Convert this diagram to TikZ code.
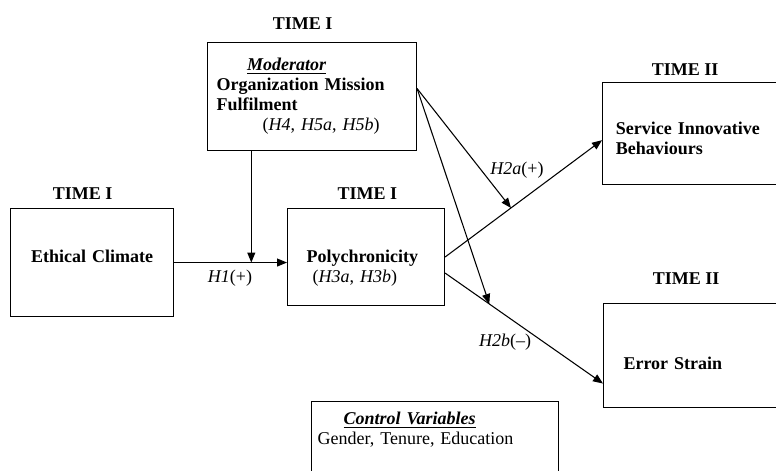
\documentclass[tikz,border=0pt]{standalone}
\usepackage{fontspec}
\setmainfont{Liberation Serif}
\usetikzlibrary{arrows.meta,positioning,calc}

\begin{document}
\begin{tikzpicture}[
    x=0.75pt, y=-0.75pt,
    font=\fontsize{13.5}{15}\selectfont,
    >={Triangle[length=7.5pt,width=6pt]},
    node distance = 4pt,
    % --- node styles ---
    box/.style = {rectangle, draw=black, line width=0.8pt,
                  anchor=north west, align=left,
                  font=\fontsize{13.5}{15}\selectfont\bfseries},
    timelbl/.style = {font=\fontsize{13.5}{15}\selectfont\bfseries},
    hyplbl/.style = {inner sep=1pt},
    arrow/.style = {->, line width=0.8pt},
]

%============ BOUNDS ============
\useasboundingbox (0,0) rectangle (776,471);
\clip (0,0) rectangle (776,471);

%============ MODERATOR ============
\node (moderator) [box, minimum width=156.75pt, minimum height=81pt,
       text width=143.25pt, inner xsep=6.75pt] at (207,42)
  {\hspace*{23pt}\underline{\textit{Moderator}}\\
   Organization Mission\\
   Fulfilment\\
   \hspace*{34.5pt}\mdseries(\textit{H4}, \textit{H5a}, \textit{H5b})};

%============ PREDICTOR + MEDIATOR ============
\node (ethical) [box, minimum width=122.25pt, minimum height=81pt,
       text width=110pt, inner xsep=6pt, align=center, text depth=9.2pt] at (10,208)
  {Ethical Climate};

\node (poly) [box, minimum width=117.75pt, minimum height=72.75pt,
       text width=89.25pt, inner xsep=14.25pt, text height=26pt] at (287,208)
  {Polychronicity\\
   \hspace*{4.5pt}\mdseries(\textit{H3a}, \textit{H3b})};

%============ OUTCOMES ============
\node (service) [box, minimum width=170pt, minimum height=76.5pt,
       text width=150pt, inner xsep=9.75pt, text height=16.5pt] at (602,82)
  {Service Innovative\\Behaviours};

\node (error) [box, minimum width=170pt, minimum height=78pt,
       text width=140pt, inner xsep=12pt, text height=21pt] at (603,303)
  {Error Strain};

%============ CONTROLS ============
\node (control) [box, font=\fontsize{13.5}{15}\selectfont,
       minimum width=185pt, minimum height=67pt,
       text width=176pt, inner xsep=4.5pt, text depth=41.5pt] at (311,401)
  {\hspace*{19.5pt}\textbf{\textit{\underline{Control Variables}}}\\
   Gender, Tenure, Education};

%============ TIME LABELS ============
\node (tmod) [timelbl, above=6pt of moderator, xshift=-7pt] {TIME I};
\node (teth) [timelbl, above=3pt of ethical, xshift=-7pt] {TIME I};
\node (tpoly) [timelbl, above=3pt of poly, xshift=1pt] {TIME I};
\node (tserv) [timelbl, above=1.5pt of service, xshift=-23pt] {TIME II};
\node (terr) [timelbl, above=10.5pt of error, xshift=-23pt] {TIME II};

%============ PATHS ============
\draw[arrow] (ethical.east) -- coordinate[pos=0.684] (h1mid)
  (ethical.east -| poly.west);
\draw[arrow] (h1mid |- moderator.south) -- (h1mid);

\draw[arrow] (poly.east) -- coordinate[pos=0.42] (h2a)
  ([yshift=-5pt]service.west);
\draw[arrow] ([yshift=-12pt]poly.east) -- coordinate[pos=0.28] (h2b)
  ([yshift=-21pt]error.west);

% moderation of the two outcome paths
\draw[arrow] ([yshift=6pt]moderator.east) -- (h2a);
\draw[arrow] ([yshift=6pt]moderator.east) -- (h2b);

%============ HYPOTHESIS LABELS ============
\node (h1lbl) [hyplbl] at (230,278) {\textit{H1}(+)};
\node (h2albl) [hyplbl] at (517,170) {\textit{H2a}(+)};
\node (h2blbl) [hyplbl] at (505,342) {\textit{H2b}(--)};

\end{tikzpicture}
\end{document}
